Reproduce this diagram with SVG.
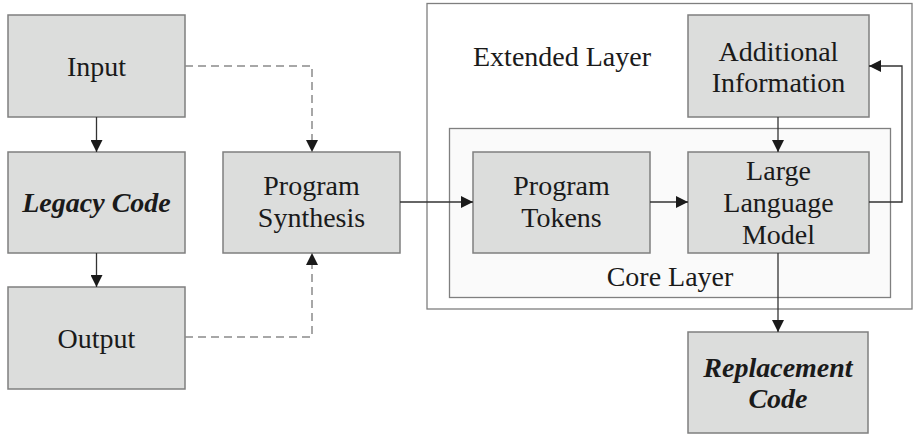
<svg xmlns="http://www.w3.org/2000/svg" width="914" height="435" viewBox="0 0 914 435">
<defs>
<marker id="ah" viewBox="0 0 12 12" refX="12" refY="6" markerWidth="12" markerHeight="12" markerUnits="userSpaceOnUse" orient="auto">
<path d="M0,0 L12,6 L0,12 Z" fill="#1a1a1a"/>
</marker>
</defs>
<style>
.box{fill:#dcdddc;stroke:#7f7f7f;stroke-width:1.5}
.t{font-family:"Liberation Serif","Times New Roman",serif;font-size:28px;fill:#1a1a1a;text-anchor:middle}
.bi{font-weight:bold;font-style:italic}
.c{fill:none;stroke:#333;stroke-width:1.3}
.d{fill:none;stroke:#8a8a8a;stroke-width:1.5;stroke-dasharray:8,5}
</style>
<rect width="914" height="435" fill="#fff"/>
<g id="extended-layer">
<rect x="427" y="3.5" width="485" height="305.5" fill="#fff" stroke="#7f7f7f" stroke-width="1.3"/>
<text class="t" x="473" y="66" style="text-anchor:start">Extended Layer</text>
</g>
<g id="core-layer">
<rect x="449.5" y="128.5" width="441" height="169" fill="#fafafa" stroke="#7f7f7f" stroke-width="1.3"/>
<text class="t" x="670" y="286">Core Layer</text>
</g>
<g id="input">
<rect class="box" x="8" y="15" width="177" height="102"/>
<text class="t" x="96.5" y="76">Input</text>
</g>
<g id="legacy-code">
<rect class="box" x="8" y="152" width="177" height="101"/>
<text class="t bi" x="96.5" y="212">Legacy Code</text>
</g>
<g id="output">
<rect class="box" x="8" y="287" width="177" height="102"/>
<text class="t" x="96.5" y="348">Output</text>
</g>
<g id="program-synthesis">
<rect class="box" x="223" y="152" width="177" height="101"/>
<text class="t" x="311.5" y="195">Program</text>
<text class="t" x="311.5" y="227">Synthesis</text>
</g>
<g id="program-tokens">
<rect class="box" x="473" y="152" width="177" height="101"/>
<text class="t" x="561.5" y="195">Program</text>
<text class="t" x="561.5" y="227">Tokens</text>
</g>
<g id="additional-information">
<rect class="box" x="688" y="15" width="181" height="102"/>
<text class="t" x="778.5" y="61">Additional</text>
<text class="t" x="778.5" y="92">Information</text>
</g>
<g id="large-language-model">
<rect class="box" x="688" y="152" width="181" height="101"/>
<text class="t" x="778.5" y="180">Large</text>
<text class="t" x="778.5" y="212">Language</text>
<text class="t" x="778.5" y="244">Model</text>
</g>
<g id="replacement-code">
<rect class="box" x="688" y="332" width="180" height="101"/>
<text class="t bi" x="778" y="377">Replacement</text>
<text class="t bi" x="778" y="408">Code</text>
</g>
<g id="connectors">
<path class="c" d="M96.5,117 V152" marker-end="url(#ah)"/>
<path class="c" d="M96.5,253 V287" marker-end="url(#ah)"/>
<path class="d" d="M185,66 H312 V145"/>
<path d="M306,140 L318,140 L312,152 Z" fill="#1a1a1a"/>
<path class="d" d="M185,337 H312 V260"/>
<path d="M306,265 L318,265 L312,253 Z" fill="#1a1a1a"/>
<path class="c" d="M400,202 H473" marker-end="url(#ah)"/>
<path class="c" d="M650,202 H688" marker-end="url(#ah)"/>
<path class="c" d="M778,117 V152" marker-end="url(#ah)"/>
<path class="c" d="M778,253 V332" marker-end="url(#ah)"/>
<path class="c" d="M869,202 H902 V66 H869" marker-end="url(#ah)"/>
</g>
</svg>
